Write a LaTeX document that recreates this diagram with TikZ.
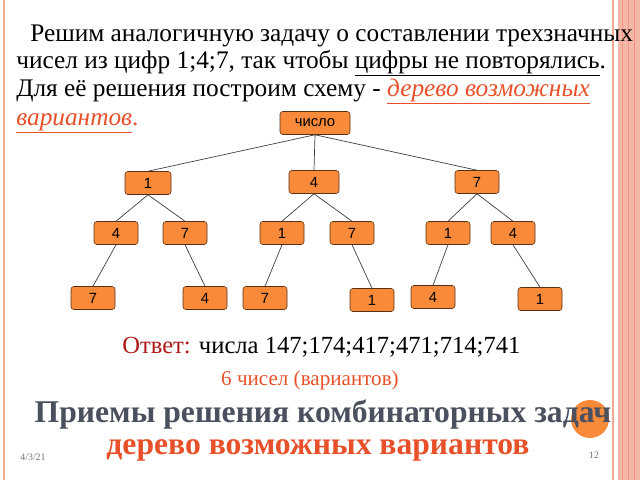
\documentclass[tikz,border=0pt]{standalone}
\usepackage{fontspec}
\setmainfont{Liberation Serif}
\setsansfont{Liberation Sans}
\usetikzlibrary{positioning}
\definecolor{boxfill}{HTML}{F98A3A}
\definecolor{boxline}{HTML}{5A3010}
\definecolor{frame}{HTML}{F0A890}
\definecolor{accent}{HTML}{E8502A}
\definecolor{answer}{HTML}{B01818}
\definecolor{titlegray}{HTML}{4A505E}
\tikzset{
  digit/.style={draw=boxline, fill=boxfill, rounded corners=2pt, minimum width=44\pxu, minimum height=23\pxu, font=\sffamily\fontsize{10.5}{10.5}\selectfont, inner sep=0pt},
  branch/.style={draw=black!75, line width=0.5pt},
  line/.style={anchor=base west, inner sep=0pt, font=\fontsize{18}{18}\selectfont}
}
\newlength{\pxu}
\setlength{\pxu}{0.025cm}
\begin{document}
\begin{tikzpicture}[x=0.025cm, y=-0.025cm]
  \useasboundingbox (0,0) rectangle (640,480);
  % slide frame
  \draw[frame, line width=1pt] (4,0) -- (4,480);
  \draw[frame, line width=1pt] (613,0) -- (613,480);
  \fill[frame!80] (618,0) rectangle (640,480);
  \foreach \x in {622, 628, 634} {
    \draw[frame!60!red!70, line width=0.6pt] (\x,0) -- (\x,480);
  }
  % text
  \node[line] (t1) at (30,41) {Решим аналогичную задачу о составлении трехзначных};
  \node[line] (t2) at (16,68) {чисел из цифр 1;4;7, так чтобы \underline{цифры не повторялись}.};
  \node[line] (t3) at (16,96) {Для её решения построим схему - \textcolor{accent}{\textit{\underline{дерево возможных}}}};
  \node[line] (t4) at (16,125) {\textcolor{accent}{\textit{\underline{вариантов}}}\textcolor{accent}{.}};
  % tree
  \node[digit, minimum width=70\pxu] (root) at (315,123) {число};
  \node[digit, minimum width=46\pxu] (a1) at (148,183) {1};
  \node[digit, minimum width=50\pxu] (a4) at (314,182) {4};
  \node[digit] (a7) at (477,182) {7};
  \node[digit] (b14) at (116,233) {4};
  \node[digit] (b17) at (185,233) {7};
  \node[digit] (b41) at (282,233) {1};
  \node[digit] (b47) at (352,233) {7};
  \node[digit] (b71) at (448,233) {1};
  \node[digit] (b74) at (513,233) {4};
  \node[digit] (c147) at (93,298) {7};
  \node[digit] (c174) at (205,298) {4};
  \node[digit] (c417) at (265,298) {7};
  \node[digit] (c471) at (372,300) {1};
  \node[digit] (c714) at (433,297) {4};
  \node[digit] (c741) at (540,299) {1};
  \foreach \p/\c in {root/a1, root/a4, root/a7, a1/b14, a1/b17, a4/b41, a4/b47, a7/b71, a7/b74,
                     b14/c147, b17/c174, b41/c417, b47/c471, b71/c714, b74/c741} {
    \draw[branch] (\p.south) -- (\c.north);
  }
  % answer
  \node[anchor=base west, inner sep=0pt, font=\fontsize{17.5}{17.5}\selectfont] (ans) at (122,353)
    {\textcolor{answer}{Ответ:} числа 147;174;417;471;714;741};
  \node[inner sep=0pt, text=accent, font=\fontsize{15}{15}\selectfont] (count) at (310,380) {6 чисел (вариантов)};
  % title
  \fill[boxfill] (590,419) circle (19);
  \node[inner sep=0pt, text=titlegray, font=\bfseries\fontsize{22.5}{22.5}\selectfont] (title) at (323,415) {Приемы решения комбинаторных задач};
  \node[inner sep=0pt, text=accent, font=\bfseries\fontsize{22.5}{22.5}\selectfont] (sub) at (318,450) {дерево возможных вариантов};
  \node[inner sep=0pt, text=black!55, font=\fontsize{7}{7}\selectfont] (date) at (33,457) {4/3/21};
  \node[inner sep=0pt, text=black!55, font=\fontsize{7}{7}\selectfont] (page) at (594,455) {12};
\end{tikzpicture}
\end{document}
